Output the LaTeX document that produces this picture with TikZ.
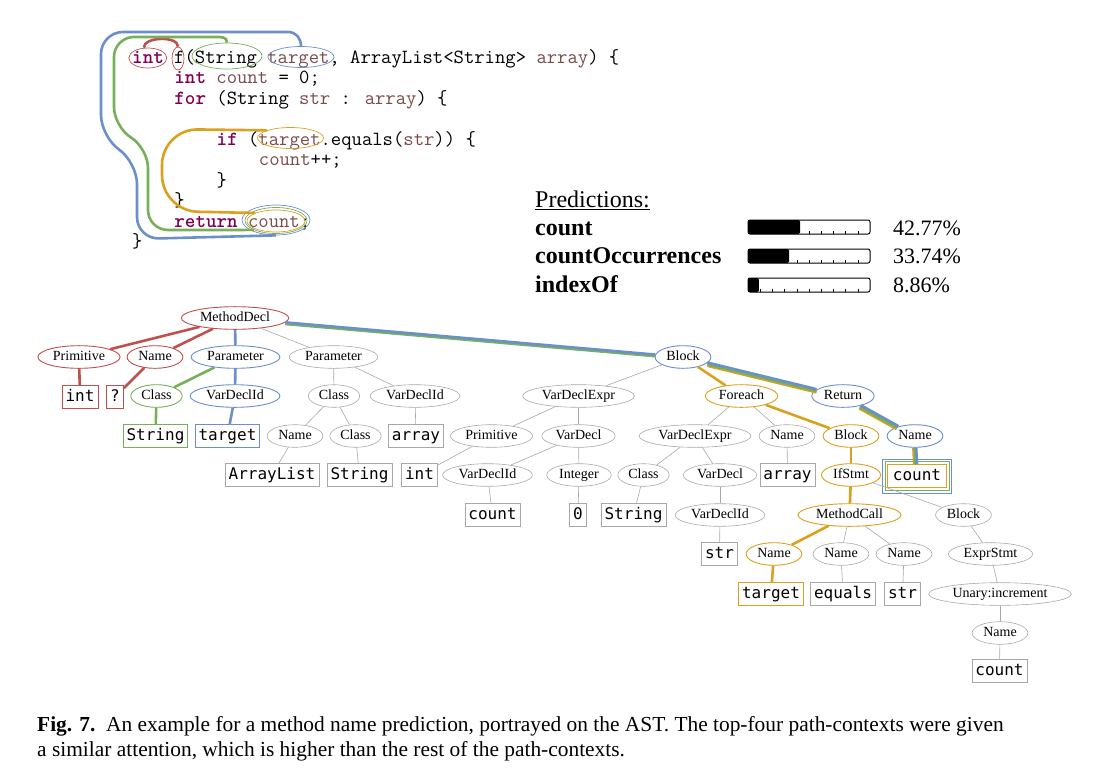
\documentclass[tikz,border=0pt]{standalone}
\usepackage{fontspec}
\setmainfont{Liberation Serif}
\newfontfamily\termfont{DejaVu Sans Mono}
\usepackage{xcolor}
\usetikzlibrary{
  positioning,
  shapes.geometric
}
\definecolor{pathred}{HTML}{C0504D}
\definecolor{pathgreen}{HTML}{77B05A}
\definecolor{pathblue}{HTML}{6A8FCB}
\definecolor{pathorange}{HTML}{DBA01E}
\definecolor{edgegrey}{HTML}{A8A8A8}
\definecolor{keyword}{HTML}{7F0055}
\definecolor{ident}{HTML}{7A4B4B}
\tikzset{
  nt/.style={ellipse, draw=edgegrey, line width=0.6pt, font=\fontsize{14}{14}\selectfont,
    text height=10pt, text depth=3pt, inner xsep=3pt, inner ysep=1.5pt},
  leaf/.style={rectangle, draw=edgegrey, line width=0.6pt, font=\termfont\fontsize{16}{16}\selectfont,
    text height=11.5pt, text depth=3.5pt, inner xsep=3.5pt, inner ysep=4pt},
  lit/.style={draw=#1, line width=0.9pt},
  codeline/.style={anchor=base west, inner sep=0pt, font=\ttfamily\fontsize{20.1}{20.1}\selectfont},
  oval/.style={ellipse, draw=#1, line width=0.7pt, inner sep=0pt},
  branch/.style={draw=edgegrey, line width=0.6pt},
  hotpath/.style={draw=#1, line width=2.6pt}
}
\newcommand{\kw}[1]{\textcolor{keyword}{\bfseries #1}}
\newcommand{\vr}[1]{\textcolor{ident}{#1}}
\newcommand{\predbar}[2]{%
  \fill[rounded corners=1.5pt] (748,#1) rectangle ({748+122*#2},{#1+14});
  \foreach \k in {1,...,9} \draw[line width=0.6pt] ({748+12.2*\k},{#1+14}) -- ++(0,-3.5);
  \draw[line width=1pt, rounded corners=2pt] (748,#1) rectangle (870,{#1+14});
}

\begin{document}
\begin{tikzpicture}[x=1pt,y=-1pt]
\useasboundingbox (0,0) rectangle (1109,769);

% code
\node[codeline] (l1) at (132,63) {\kw{int} f(String \vr{target}, ArrayList<String> \vr{array}) \{};
\node[codeline] (l2) at (174.2,83.5) {\kw{int} \vr{count} = 0;};
\node[codeline] (l3) at (174.2,104) {\kw{for} (String \vr{str} : \vr{array}) \{};
\node[codeline] (l4) at (216.5,145) {\kw{if} (\vr{target}.equals(\vr{str})) \{};
\node[codeline] (l5) at (258.7,165.5) {\vr{count}++;};
\node[codeline] (l6) at (216.5,186) {\}};
\node[codeline] (l7) at (174.2,206) {\}};
\node[codeline] (l8) at (174.2,227) {\kw{return} \vr{count};};
\node[codeline] (l9) at (132,247.5) {\}};

\node[oval=pathred, minimum width=38, minimum height=20] (oint) at (147.8,58) {};
\node[oval=pathred, minimum width=12, minimum height=23] (of) at (178,58.5) {};
\node[oval=pathgreen, minimum width=70, minimum height=26] (ostr) at (227,56) {};
\node[oval=pathblue, minimum width=66, minimum height=21] (otgt) at (301,57) {};
\node[oval=pathorange, minimum width=66, minimum height=21] (oift) at (290.5,138) {};
\node[oval=pathorange, minimum width=58, minimum height=22] (ocnto) at (276,221) {};
\node[oval=pathgreen, minimum width=62, minimum height=26] (ocntg) at (276,220.5) {};
\node[oval=pathblue, minimum width=68, minimum height=30] (ocntb) at (276,220) {};

\draw[hotpath=pathred] ([xshift=-4pt]oint.north) .. controls +(0,-11) and +(0,-11) .. (of.north);
\draw[hotpath=pathgreen] (ostr.north) .. controls +(0,-6) and +(8,0) .. (214,37)
  [rounded corners=20] -- (114,37) -- (114,127) -- (148,148) -- (148,230) -- (ocntg.south west);
\draw[hotpath=pathblue] (otgt.north) .. controls +(0,-8) and +(8,0) .. (288,32)
  [rounded corners=22] -- (101,32) -- (101,137) -- (137,162) -- (137,239) -- (ocntb.south);
\draw[hotpath=pathorange] (oift.north west) [rounded corners=36] -- (162,129) -- (162,211) -- (ocnto.north west);

% predictions
\node[anchor=base west, inner sep=0pt, font=\fontsize{24}{24}\selectfont] (predhead) at (535,207) {\underline{Predictions:}};
\node[anchor=base west, inner sep=0pt, font=\bfseries\fontsize{24}{24}\selectfont] (pred1) at (535,235) {count};
\node[anchor=base west, inner sep=0pt, font=\bfseries\fontsize{24}{24}\selectfont] (pred2) at (535,263.5) {countOccurrences};
\node[anchor=base west, inner sep=0pt, font=\bfseries\fontsize{24}{24}\selectfont] (pred3) at (535,292) {indexOf};
\predbar{220}{0.4277}
\predbar{249}{0.3374}
\predbar{278}{0.0886}
\node[anchor=base west, inner sep=0pt, font=\fontsize{22}{22}\selectfont] (pct1) at (893,235) {42.77\%};
\node[anchor=base west, inner sep=0pt, font=\fontsize{22}{22}\selectfont] (pct2) at (893,263.5) {33.74\%};
\node[anchor=base west, inner sep=0pt, font=\fontsize{22}{22}\selectfont] (pct3) at (893,292) {8.86\%};

% AST
\node[nt, lit=pathred] (md) at (235,318) {MethodDecl};
\node[nt, lit=pathred] (prim1) at (79,357) {Primitive};
\node[nt, lit=pathred] (name1) at (155,357) {Name};
\node[nt, lit=pathblue] (par1) at (235.5,357) {Parameter};
\node[nt] (par2) at (333.5,357) {Parameter};
\node[nt, lit=pathblue] (blk1) at (683,357) {Block};

\node[leaf, lit=pathred] (tint1) at (80,397) {int};
\node[leaf, lit=pathred] (tq) at (115,397) {?};
\node[nt, lit=pathgreen] (cls1) at (156.5,396) {Class};
\node[nt, lit=pathblue] (vdi1) at (235,396) {VarDeclId};
\node[nt] (cls2) at (334,396) {Class};
\node[nt] (vdi2) at (415,396) {VarDeclId};
\node[nt] (vde1) at (578.5,396) {VarDeclExpr};
\node[nt, lit=pathorange] (fe) at (741.5,396) {Foreach};
\node[nt, lit=pathblue] (ret) at (843,396) {Return};

\node[leaf, lit=pathgreen] (tstr1) at (155.5,436) {String};
\node[leaf, lit=pathblue] (ttgt1) at (227.5,436) {target};
\node[nt] (name2) at (295,436) {Name};
\node[nt] (cls3) at (355.5,436) {Class};
\node[leaf] (tarr1) at (416,436) {array};
\node[nt] (prim2) at (491.5,436) {Primitive};
\node[nt] (vd1) at (578.5,436) {VarDecl};
\node[nt] (vde2) at (695,436) {VarDeclExpr};
\node[nt] (name3) at (787,436) {Name};
\node[nt, lit=pathorange] (blk2) at (851,436) {Block};
\node[nt, lit=pathblue] (name4) at (915,436) {Name};

\node[leaf] (tal) at (272,475) {ArrayList};
\node[leaf] (tstr2) at (359.5,475) {String};
\node[leaf] (tint2) at (419.5,475) {int};
\node[nt] (vdi3) at (487.5,475) {VarDeclId};
\node[nt] (intg) at (579,475) {Integer};
\node[nt] (cls4) at (643.5,475) {Class};
\node[nt] (vd2) at (720,475) {VarDecl};
\node[leaf] (tarr2) at (787.5,475) {array};
\node[nt, lit=pathorange] (ifs) at (851,475) {IfStmt};
\node[leaf, lit=pathorange, inner xsep=5pt] (tcnt1) at (917,476) {count};
\draw[pathgreen, line width=0.9pt] ([xshift=-2.5pt,yshift=-2.5pt]tcnt1.south west) rectangle ([xshift=2.5pt,yshift=2.5pt]tcnt1.north east);
\draw[pathblue, line width=0.9pt] ([xshift=-5pt,yshift=-5pt]tcnt1.south west) rectangle ([xshift=5pt,yshift=5pt]tcnt1.north east);

\node[leaf] (tcnt2) at (492.5,515) {count};
\node[leaf] (tzero) at (578,515) {0};
\node[leaf] (tstr3) at (633.5,515) {String};
\node[nt] (vdi4) at (720,515) {VarDeclId};
\node[nt, lit=pathorange] (mc) at (849.5,515) {MethodCall};
\node[nt] (blk3) at (963.5,515) {Block};

\node[leaf] (tstr4) at (719.5,554) {str};
\node[nt, lit=pathorange] (name5) at (774,554) {Name};
\node[nt] (name6) at (841,554) {Name};
\node[nt] (name7) at (904,554) {Name};
\node[nt] (es) at (990.5,554) {ExprStmt};

\node[leaf, lit=pathorange] (ttgt2) at (771,594) {target};
\node[leaf] (teq) at (843,594) {equals};
\node[leaf] (tstr5) at (902.5,594) {str};
\node[nt] (un) at (1000,594) {Unary:increment};
\node[nt] (name8) at (1000,633) {Name};
\node[leaf] (tcnt3) at (999.5,671) {count};

% plain branches
\draw[branch] (md) -- (par2);
\draw[branch] (par2) -- (cls2);
\draw[branch] (par2) -- (vdi2);
\draw[branch] (cls2) -- (name2);
\draw[branch] (cls2) -- (cls3);
\draw[branch] (vdi2) -- (tarr1);
\draw[branch] (name2) -- (tal);
\draw[branch] (cls3) -- (tstr2);
\draw[branch] (blk1) -- (vde1);
\draw[branch] (vde1) -- (prim2);
\draw[branch] (vde1) -- (vd1);
\draw[branch] (prim2) -- (tint2);
\draw[branch] (vd1) -- (vdi3);
\draw[branch] (vd1) -- (intg);
\draw[branch] (vdi3) -- (tcnt2);
\draw[branch] (intg) -- (tzero);
\draw[branch] (fe) -- (vde2);
\draw[branch] (fe) -- (name3);
\draw[branch] (vde2) -- (cls4);
\draw[branch] (vde2) -- (vd2);
\draw[branch] (cls4) -- (tstr3);
\draw[branch] (vd2) -- (vdi4);
\draw[branch] (vdi4) -- (tstr4);
\draw[branch] (name3) -- (tarr2);
\draw[branch] (ifs) -- (blk3);
\draw[branch] (mc) -- (name6);
\draw[branch] (mc) -- (name7);
\draw[branch] (name6) -- (teq);
\draw[branch] (name7) -- (tstr5);
\draw[branch] (blk3) -- (es);
\draw[branch] (es) -- (un);
\draw[branch] (un) -- (name8);
\draw[branch] (name8) -- (tcnt3);

% attended paths
\draw[hotpath=pathred] (md) -- (prim1);
\draw[hotpath=pathred] (md) -- (name1);
\draw[hotpath=pathred] (prim1) -- (tint1);
\draw[hotpath=pathred] (name1) -- (tq);
\draw[hotpath=pathblue] (md) -- (par1);
\draw[hotpath=pathgreen] (par1) -- (cls1);
\draw[hotpath=pathgreen] (cls1) -- (tstr1);
\draw[hotpath=pathblue] (par1) -- (vdi1);
\draw[hotpath=pathblue] (vdi1) -- (ttgt1);
\draw[hotpath=pathgreen, transform canvas={yshift=-1.6pt}] (md) -- (blk1);
\draw[hotpath=pathblue] (md) -- (blk1);
\draw[hotpath=pathorange] (blk1) -- (fe);
\draw[hotpath=pathorange] (fe) -- (blk2);
\draw[hotpath=pathorange] (blk2) -- (ifs);
\draw[hotpath=pathorange] (ifs) -- (mc);
\draw[hotpath=pathorange] (mc) -- (name5);
\draw[hotpath=pathorange] (name5) -- (ttgt2);
\draw[hotpath=pathorange, transform canvas={yshift=-2.8pt}] (blk1) -- (ret);
\draw[hotpath=pathgreen, transform canvas={yshift=-1.4pt}] (blk1) -- (ret);
\draw[hotpath=pathblue, transform canvas={yshift=0.4pt}] (blk1) -- (ret);
\draw[hotpath=pathorange, transform canvas={xshift=-1.4pt,yshift=-2.5pt}] (ret) -- (name4);
\draw[hotpath=pathgreen, transform canvas={xshift=-0.7pt,yshift=-1.2pt}] (ret) -- (name4);
\draw[hotpath=pathblue, transform canvas={xshift=0.3pt,yshift=0.5pt}] (ret) -- (name4);
\draw[hotpath=pathorange, transform canvas={xshift=-2.2pt}] (name4) -- (tcnt1);
\draw[hotpath=pathgreen, transform canvas={xshift=-0.9pt}] (name4) -- (tcnt1);
\draw[hotpath=pathblue, transform canvas={xshift=0.6pt}] (name4) -- (tcnt1);

% caption
\node[anchor=base west, inner sep=0pt, font=\fontsize{21.4}{21.4}\selectfont] (cap1) at (37,731)
  {\textbf{Fig. 7.}\enspace An example for a method name prediction, portrayed on the AST. The top-four path-contexts were given};
\node[anchor=base west, inner sep=0pt, font=\fontsize{21.4}{21.4}\selectfont] (cap2) at (37,756)
  {a similar attention, which is higher than the rest of the path-contexts.};
\end{tikzpicture}
\end{document}
